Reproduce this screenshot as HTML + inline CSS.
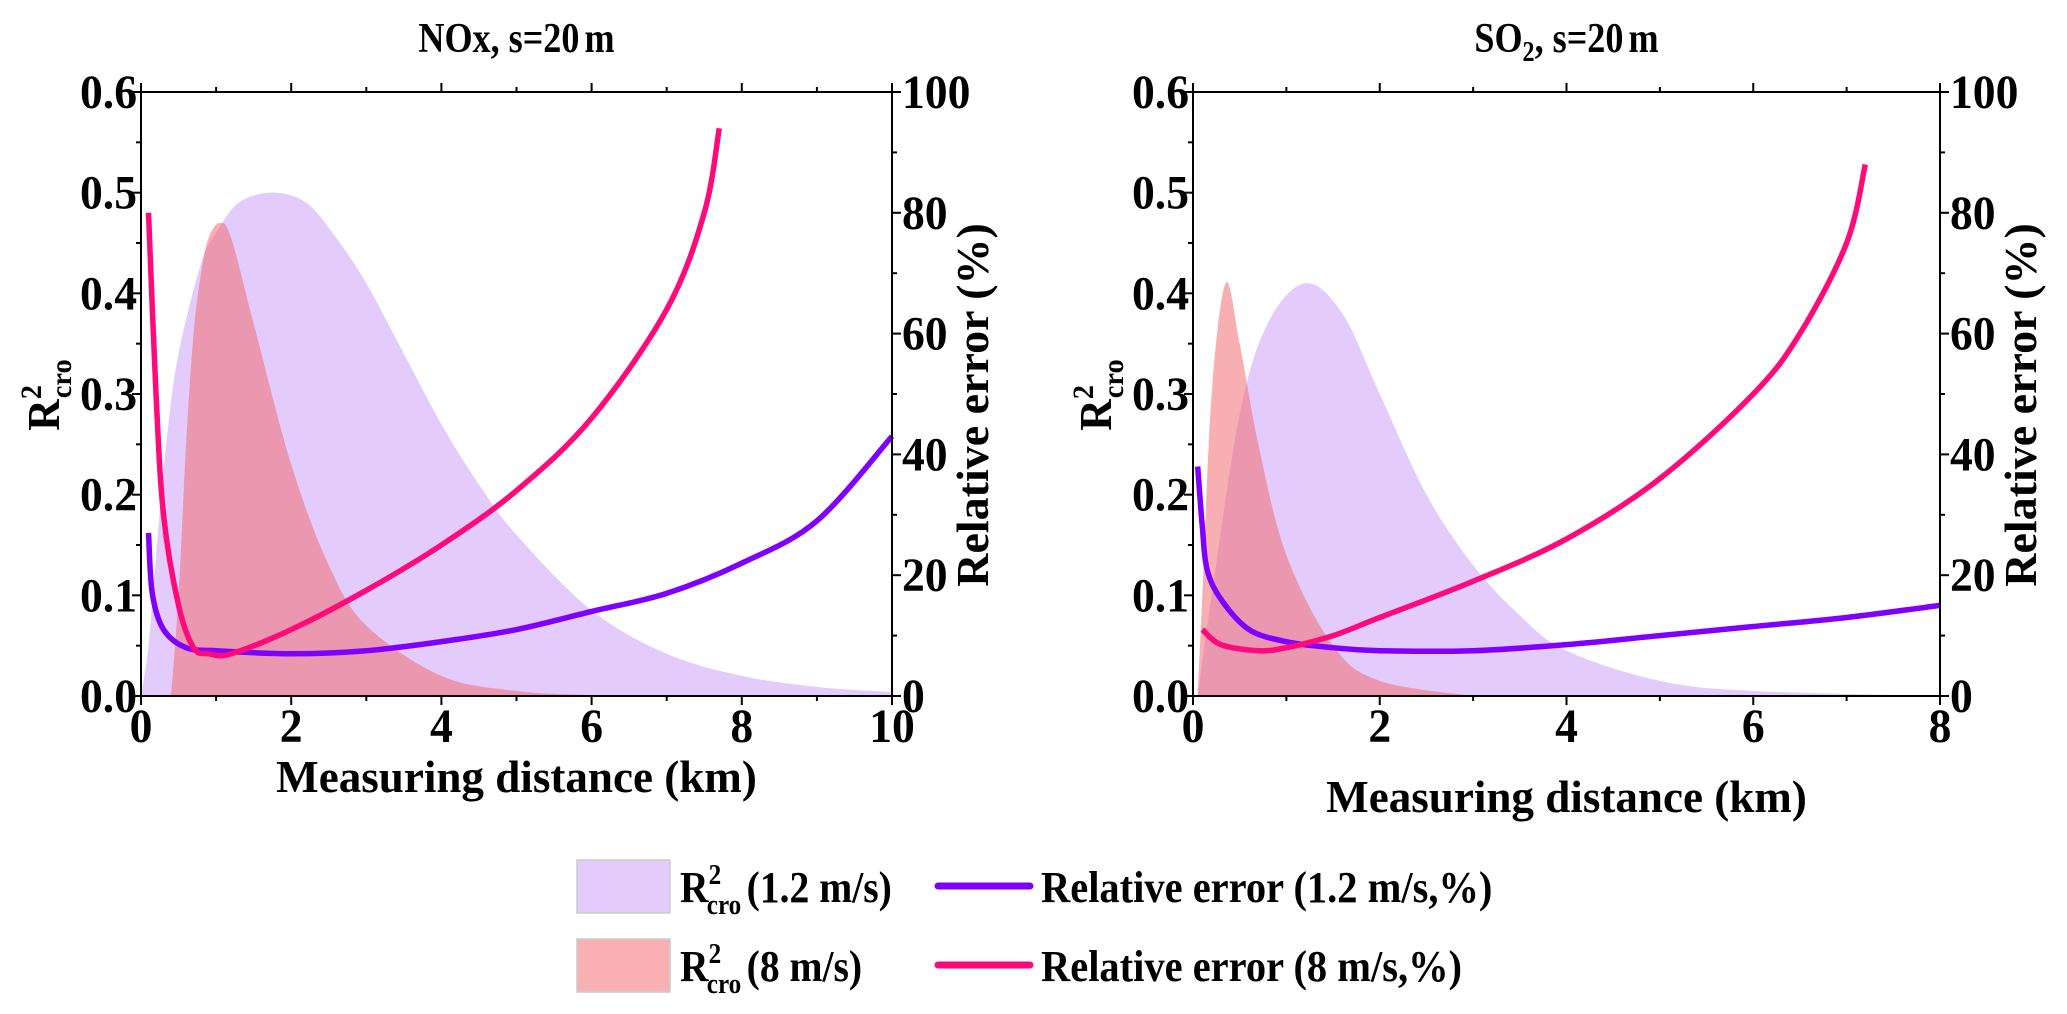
<!DOCTYPE html>
<html><head><meta charset="utf-8"><style>
html,body{margin:0;padding:0;background:#fff;}
svg{display:block;}
text{font-family:"Liberation Serif",serif;font-weight:bold;fill:#000;}
</style></head><body>
<svg id="fig" width="2067" height="1014" viewBox="0 0 2067 1014" xmlns="http://www.w3.org/2000/svg"></svg>
<script>
// ---- data: NOx panel ----
const noxPurpleFillX=[0,0.1,0.2,0.35,0.5,0.8,1,1.3,1.75,2.2,2.6,3,3.5,4,4.5,5,6,7,8,9,10];
const noxPurpleFillY=[0,0.05,0.14,0.26,0.34,0.43,0.46,0.49,0.5,0.49,0.455,0.41,0.34,0.27,0.21,0.16,0.085,0.042,0.02,0.009,0.004];
const noxRedFillX=[0.4,0.5,0.6,0.7,0.8,0.9,1.05,1.2,1.5,2,2.5,3,4,5,6,7];
const noxRedFillY=[0,0.1,0.25,0.36,0.42,0.455,0.47,0.455,0.37,0.23,0.13,0.07,0.02,0.005,0.001,0];
const noxMagX=[0.1,0.2,0.3,0.5,0.7,0.9,1.2,2,3,4,5,6,7,7.5,7.7];
const noxMagY=[80,50,30,15,8,7,7,11,17.5,25,34,46,64,80,94];
const noxPurX=[0.1,0.15,0.3,0.6,1,2,3,4,5,6,7,8,9,10];
const noxPurY=[27,17,11,8,7.5,7,7.5,9,11,14,17,22,29,43];
// ---- data: SO2 panel ----
const so2PurpleFillX=[0.05,0.2,0.5,0.8,1.2,1.6,2,2.5,3,3.5,4,5,6,8];
const so2PurpleFillY=[0,0.1,0.28,0.37,0.41,0.38,0.3,0.2,0.13,0.08,0.045,0.015,0.005,0];
const so2RedFillX=[0.05,0.1,0.2,0.35,0.5,0.7,1,1.5,2,3];
const so2RedFillY=[0,0.1,0.3,0.41,0.35,0.25,0.14,0.05,0.015,0];
const so2MagX=[0.1,0.3,0.7,1,1.5,2,3,4,5,6,6.5,7,7.2];
const so2MagY=[11,8.5,7.5,8,10,13,19,26,36,50,60,75,88];
const so2PurX=[0.05,0.1,0.15,0.3,0.6,1,1.5,2,3,4,5,6,7,8];
const so2PurY=[38,28,21,16,11,9,8,7.5,7.5,8.5,10,11.5,13,15];
const leftTicks=["0.0","0.1","0.2","0.3","0.4","0.5","0.6"];
const rightTicks=["0","20","40","60","80","100"];

const NS="http://www.w3.org/2000/svg";
const svg=document.getElementById('fig');
function mk(tag,attrs,parent,txt){const e=document.createElementNS(NS,tag);for(const k in attrs)e.setAttribute(k,attrs[k]);if(txt!==undefined)e.textContent=txt;(parent||svg).appendChild(e);return e;}
function ctext(parent,x,y,size,anchor,html,sx,rot){
  const t=mk('text',{transform:'translate('+x+','+y+')'+(rot?' rotate(-90)':'')+' scale('+(sx||0.82)+',1)','font-size':size,'text-anchor':anchor||'start'},parent);
  t.innerHTML=html;return t;
}
function smooth(pts){
  let d='';
  for(let i=0;i<pts.length-1;i++){
    const p0=pts[Math.max(0,i-1)],p1=pts[i],p2=pts[i+1],p3=pts[Math.min(pts.length-1,i+2)];
    d+=' C'+(p1[0]+(p2[0]-p0[0])/6)+','+(p1[1]+(p2[1]-p0[1])/6)+' '+(p2[0]-(p3[0]-p1[0])/6)+','+(p2[1]-(p3[1]-p1[1])/6)+' '+p2[0]+','+p2[1];
  }
  return d;
}

const Y0=696,Y1=92;
function panel(o){
  const g=mk('g',{});
  
  
  const sx=v=>o.x0+(v-o.xmin)/(o.xmax-o.xmin)*(o.x1-o.x0);
  const sy=v=>Y0+(v/0.6)*(Y1-Y0);
  const sy2=v=>Y0+(v/100)*(Y1-Y0);
  function area(xs,ys,fill,name){
    const pts=xs.map((x,i)=>[sx(x),Math.min(Y0,sy(ys[i]))]);
    let d='M'+pts[0][0]+','+Y0+' L'+pts[0][0]+','+pts[0][1]+smooth(pts)+' L'+pts[pts.length-1][0]+','+Y0+' Z';
    const p=mk('path',{d:d,fill:fill,stroke:'none'},g);
    
    
  }
  function line(xs,ys,col,name){
    const pts=xs.map((x,i)=>[sx(x),sy2(ys[i])]);
    const d='M'+pts[0][0]+','+pts[0][1]+smooth(pts);
    const p=mk('path',{d:d,fill:'none',stroke:col,'stroke-width':5.5,'stroke-linejoin':'round'},g);
    
    
  }
  area(o.pfx,o.pfy,'#e3cbfb','fill-r2-1-2ms');
  area(o.rfx,o.rfy,'rgba(243,110,115,0.55)','fill-r2-8ms');
  line(o.purx,o.pury,'#7f00ff','line-error-1-2ms');
  line(o.magx,o.magy,'#ff0a7a','line-error-8ms');
  const fr=mk('rect',{x:o.x0,y:Y1,width:o.x1-o.x0,height:Y0-Y1,fill:'none',stroke:'#000','stroke-width':2},g);
  
  
  for(let v=o.xmin;v<=o.xmax+1e-9;v+=o.xstep/2){
    const major=Math.abs(v/o.xstep-Math.round(v/o.xstep))<1e-6;
    const L=major?9:5;
    mk('line',{x1:sx(v),x2:sx(v),y1:Y0,y2:Y0+L,stroke:'#000','stroke-width':2},g);
    mk('line',{x1:sx(v),x2:sx(v),y1:Y1,y2:Y1-L,stroke:'#000','stroke-width':2},g);
    if(major){
      const t=ctext(g,sx(v),Y0+46,48,'middle',String(Math.round(v)),0.95);
      
      
    }
  }
  for(let i=0;i<=12;i++){
    const v=i*0.05,major=i%2===0,L=major?9:5;
    mk('line',{x1:o.x0,x2:o.x0-L,y1:sy(v),y2:sy(v),stroke:'#000','stroke-width':2},g);
    if(major){
      const t=ctext(g,o.x0-4,sy(v)+16,48,'end',leftTicks[i/2],0.95);
      
      
    }
  }
  for(let i=0;i<=10;i++){
    const v=i*10,major=i%2===0,L=major?9:5;
    mk('line',{x1:o.x1,x2:o.x1+L,y1:sy2(v),y2:sy2(v),stroke:'#000','stroke-width':2},g);
    if(major){
      const t=ctext(g,o.x1+10,sy2(v)+16,48,'start',rightTicks[i/2],0.95);
      
      
    }
  }
  const tt=ctext(g,(o.x0+o.x1)/2,52,42,'middle',o.title,0.86);
  
  
  const xt=ctext(g,(o.x0+o.x1)/2,o.xtY,46,'middle','Measuring distance (km)',0.98);
  
  
  const yl=ctext(g,o.x0-82,395,46,'middle','R<tspan dy="-18" font-size="30">2</tspan><tspan dy="30" dx="-14" font-size="30">cro</tspan>',0.95,true);
  
  
  const yr=ctext(g,o.x1+96,405,46,'middle','Relative error (%)',1.0,true);
  
  
}
panel({name:'nox-panel',x0:141,x1:892,xmin:0,xmax:10,xstep:2,title:'NOx, s=20<tspan dx="6">m</tspan>',xtY:792,
  pfx:noxPurpleFillX,pfy:noxPurpleFillY,rfx:noxRedFillX,rfy:noxRedFillY,magx:noxMagX,magy:noxMagY,purx:noxPurX,pury:noxPurY});
panel({name:'so2-panel',x0:1193,x1:1940,xmin:0,xmax:8,xstep:2,title:'SO<tspan font-size="28" dy="9">2</tspan><tspan dy="-9">, s=20</tspan><tspan dx="6">m</tspan>',xtY:812,
  pfx:so2PurpleFillX,pfy:so2PurpleFillY,rfx:so2RedFillX,rfy:so2RedFillY,magx:so2MagX,magy:so2MagY,purx:so2PurX,pury:so2PurY});

const lg=mk('g',{});


function legEntry(y,boxFill,label1,lineCol,label2,name){
  const e=mk('g',{},lg);
  
  
  mk('rect',{x:577,y:y-26,width:93,height:53,fill:boxFill,stroke:'#ccc','stroke-width':1.5},e);
  ctext(e,680,y+16,44,'start','R<tspan dy="-18" font-size="28">2</tspan><tspan dy="30" dx="-16" font-size="28">cro</tspan><tspan dy="-12" dx="6">'+label1+'</tspan>',0.9);
  mk('line',{x1:938,x2:1030,y1:y,y2:y,stroke:lineCol,'stroke-width':7,'stroke-linecap':'round'},e);
  ctext(e,1041,y+16,44,'start',label2,0.92);
}
legEntry(886,'#e3cbfb','(1.2 m/s)','#7f00ff','Relative error (1.2 m/s,%)','legend-entry-1-2ms');
legEntry(965,'#f8b0b2','(8 m/s)','#ff0a7a','Relative error (8 m/s,%)','legend-entry-8ms');
</script>
</body></html>
